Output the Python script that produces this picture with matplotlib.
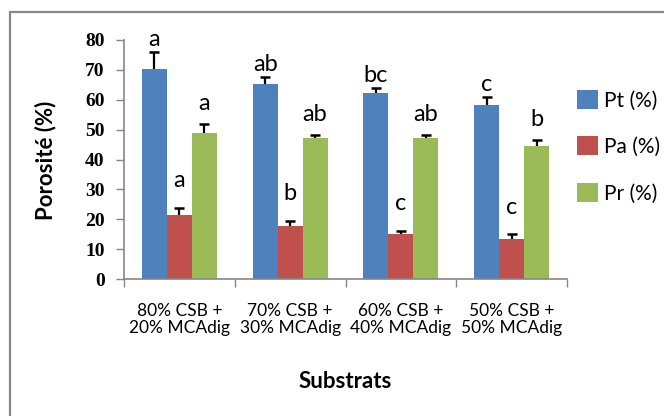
import matplotlib
matplotlib.use("Agg")
import matplotlib.pyplot as plt
import numpy as np
from matplotlib.patches import Rectangle

categories = ["80% CSB +\n20% MCAdig", "70% CSB +\n30% MCAdig",
              "60% CSB +\n40% MCAdig", "50% CSB +\n50% MCAdig"]
series = ["Pt (%)", "Pa (%)", "Pr (%)"]
pt = [70.2, 65.2, 62.2, 58.2]
pa = [21.4, 17.7, 15.1, 13.4]
pr = [48.8, 47.2, 47.2, 44.5]
pt_err = [5.8, 2.5, 1.8, 2.8]
pa_err = [2.5, 1.7, 1.1, 1.5]
pr_err = [3.2, 1.0, 1.0, 2.1]
pt_letters = ["a", "ab", "bc", "c"]
pa_letters = ["a", "b", "c", "c"]
pr_letters = ["a", "ab", "ab", "b"]

colors = ["#4F81BD", "#C0504D", "#9BBB59"]
values = [pt, pa, pr]
errors = [pt_err, pa_err, pr_err]
letters = [pt_letters, pa_letters, pr_letters]
letter_offsets = [4, 15, 10]  # points above error bar

DPI = 100
fig = plt.figure(figsize=(6.64, 4.16), dpi=DPI)
ax = fig.add_axes([124/664, 1-279/416, (567-124)/664, (279-40)/416])

x = np.arange(len(categories))
w = 0.225
for i, (vals, errs, col, lets) in enumerate(zip(values, errors, colors, letters)):
    pos = x + (i - 1) * w
    vals = np.array(vals)
    errs = np.array(errs)
    ax.bar(pos, vals, width=w, color=col, label=series[i], zorder=2)
    ax.vlines(pos, vals, vals + errs, color='black', linewidth=1.6, zorder=3)
    ax.plot(pos, vals + errs, linestyle='none', marker='_', markersize=7,
            markeredgewidth=1.8, color='black', zorder=3)
    for p, v, e, l in zip(pos, vals, errs, lets):
        ax.annotate(l, (p, v + e), xytext=(0, letter_offsets[i]), textcoords='offset points',
                    ha='center', va='baseline', fontsize=17, family=['Lato', 'DejaVu Sans'])

ax.set_xlim(-0.5, 3.5)
ax.set_ylim(0, 80)
ax.set_yticks(range(0, 81, 10))
ax.set_xticks(np.arange(-0.5, 3.6, 1.0))
ax.set_xticklabels([])
ax.tick_params(axis='x', direction='out', length=6, color='#868686', width=1)
ax.tick_params(axis='y', direction='out', length=6, color='#868686', width=1,
               labelsize=14, pad=8)
for lab in ax.get_yticklabels():
    lab.set_family(['Liberation Serif', 'DejaVu Serif'])
    lab.set_fontweight('bold')
for c, lab in zip(x, categories):
    ax.text(c, -0.1, lab, transform=ax.get_xaxis_transform(), ha='center', va='top',
            fontsize=12.5, family=['Lato', 'DejaVu Sans'], linespacing=1.05)

for s in ['top', 'right']:
    ax.spines[s].set_visible(False)
for s in ['left', 'bottom']:
    ax.spines[s].set_color('#868686')
    ax.spines[s].set_linewidth(1.2)

fig.text(46/664, 1-160/416, "Porosité (%)", rotation=90, ha='center', va='center',
         fontsize=16, fontweight='bold', family=['Lato', 'DejaVu Sans'])
fig.text(345/664, 1-382/416, "Substrats", ha='center', va='center', fontsize=16,
         fontweight='bold', family=['Lato', 'DejaVu Sans'])

leg = ax.legend(loc='upper left', bbox_to_anchor=(577/664, 1-90/416), bbox_transform=fig.transFigure,
                frameon=False, handlelength=1.0, handleheight=1.0, handletextpad=0.3,
                labelspacing=1.25, borderpad=0, borderaxespad=0,
                prop={'family': ['Lato', 'DejaVu Sans'], 'size': 15})

fig.patches.append(Rectangle((10/664, -0.1), 1.2, (1-12/416) + 0.1, transform=fig.transFigure,
                             fill=False, edgecolor='#888888', linewidth=1.6))

fig.savefig("out.png", dpi=DPI)
